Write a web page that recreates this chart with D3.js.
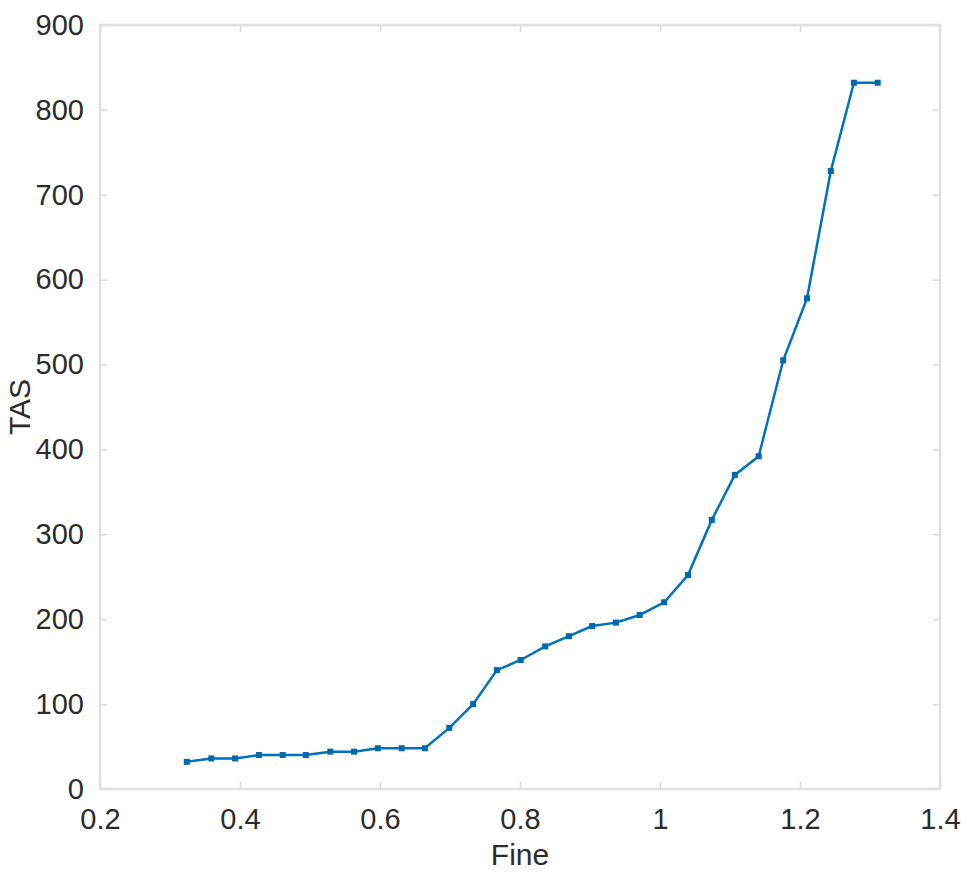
<!DOCTYPE html>
<html>
<meta charset=utf-8>
<title>TAS vs Fine</title>
<style>
  body { margin: 0; background: #fff; }
  text { font-family: "Liberation Sans", Arial, sans-serif; fill: #2b2b2b; }
</style>
<svg id=chart width=973 height=873></svg>
<script src=https://d3js.org/d3.v7.min.js></script>
<script>
// values
var fine = [0.324, 0.359, 0.393, 0.427, 0.461, 0.494, 0.529, 0.563, 0.597, 0.631,
            0.664, 0.699, 0.733, 0.767, 0.801, 0.836, 0.870, 0.903, 0.937, 0.971,
            1.006, 1.040, 1.074, 1.107, 1.141, 1.176, 1.210, 1.244, 1.277, 1.311];
var tas = [32, 36, 36, 40, 40, 40, 44, 44, 48, 48,
           48, 72, 100, 140, 152, 168, 180, 192, 196, 205,
           220, 252, 317, 370, 392, 505, 578, 728, 832, 832];
var xTicks = [0.2, 0.4, 0.6, 0.8, 1, 1.2, 1.4];
var yTicks = [0, 100, 200, 300, 400, 500, 600, 700, 800, 900];

var svg = d3.select("#chart");
var m = {left: 100, right: 33, top: 25, bottom: 84};
var w = 973 - m.left - m.right, h = 873 - m.top - m.bottom;

var x = d3.scaleLinear().domain([0.2, 1.4]).range([0, w]);
var y = d3.scaleLinear().domain([0, 900]).range([h, 0]);

var g = svg.append("g").attr("transform", "translate(" + m.left + "," + m.top + ")");

// ticks inside on all four sides, box drawn on top
function styleAxis(sel) {
    sel.select(".domain").remove();
    sel.selectAll(".tick line").attr("stroke", "#d9d9d9").attr("stroke-width", 1.5);
    sel.selectAll("text").attr("font-size", 29).attr("fill", "#2b2b2b")
        .style("font-family", "'Liberation Sans', Arial, sans-serif");
}

g.append("g").attr("transform", "translate(0," + h + ")")
    .call(d3.axisBottom(x).tickValues(xTicks).tickSizeInner(-7).tickSizeOuter(0).tickPadding(19)
        .tickFormat(d3.format("")))
    .call(styleAxis);
g.append("g")
    .call(d3.axisTop(x).tickValues(xTicks).tickSizeInner(-7).tickSizeOuter(0).tickFormat(""))
    .call(styleAxis);
g.append("g")
    .call(d3.axisLeft(y).tickValues(yTicks).tickSizeInner(-7).tickSizeOuter(0).tickPadding(16))
    .call(styleAxis);
g.append("g").attr("transform", "translate(" + w + ",0)")
    .call(d3.axisRight(y).tickValues(yTicks).tickSizeInner(-7).tickSizeOuter(0).tickFormat(""))
    .call(styleAxis);

g.append("rect").attr("width", w).attr("height", h)
    .attr("fill", "none").attr("stroke", "#e0e0e0").attr("stroke-width", 2.5);

var pts = fine.map(function (d, i) { return [d, tas[i]]; });

g.append("path").datum(pts)
    .attr("fill", "none").attr("stroke", "#0072BD").attr("stroke-width", 2.5)
    .attr("d", d3.line().x(function (d) { return x(d[0]); }).y(function (d) { return y(d[1]); }));

g.selectAll(".dot").data(pts).enter().append("rect")
    .attr("class", "dot")
    .attr("x", function (d) { return x(d[0]) - 3; })
    .attr("y", function (d) { return y(d[1]) - 3; })
    .attr("width", 6).attr("height", 6)
    .attr("fill", "#0068ac");

// axis labels
svg.append("text").attr("x", m.left + w / 2).attr("y", 865)
    .attr("text-anchor", "middle").attr("font-size", 30).text("Fine");
svg.append("text").attr("transform", "translate(30," + (m.top + h / 2) + ") rotate(-90)")
    .attr("text-anchor", "middle").attr("font-size", 30).text("TAS");
</script>
</html>
